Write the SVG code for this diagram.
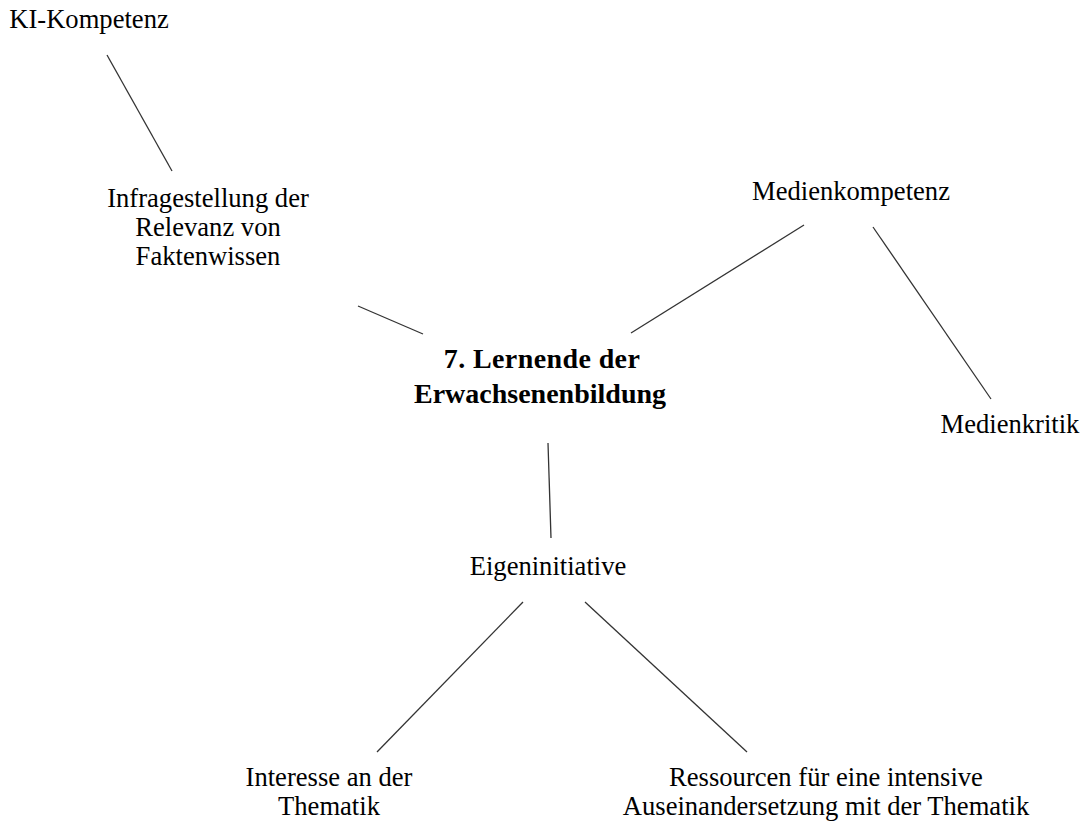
<svg xmlns="http://www.w3.org/2000/svg" width="1083" height="821" viewBox="0 0 1083 821">
  <style>
    .lbl { font-family: "Liberation Serif", "Times New Roman", serif; font-size: 26.6px; fill: #000; text-anchor: middle; }
    .root { font-family: "Liberation Serif", "Times New Roman", serif; font-size: 28px; font-weight: bold; fill: #000; text-anchor: middle; }
    .edge { stroke: #333; stroke-width: 1.3; fill: none; }
  </style>
  <rect width="1083" height="821" fill="#fff"/>

  <g id="connectors">
    <line class="edge" x1="107" y1="55" x2="172" y2="171"/>
    <line class="edge" x1="358" y1="306" x2="423" y2="334"/>
    <line class="edge" x1="631" y1="333" x2="804" y2="225"/>
    <line class="edge" x1="873" y1="227" x2="991" y2="399"/>
    <line class="edge" x1="548" y1="443" x2="551" y2="538"/>
    <line class="edge" x1="523" y1="602" x2="377" y2="752"/>
    <line class="edge" x1="585" y1="602" x2="747" y2="752"/>
  </g>

  <g id="node-root">
    <text class="root" x="542" y="368" letter-spacing="0.4">7. Lernende der</text>
    <text class="root" x="540" y="403">Erwachsenenbildung</text>
  </g>
  <g id="node-ki">
    <text class="lbl" x="89" y="28">KI-Kompetenz</text>
  </g>
  <g id="node-infrage">
    <text class="lbl" x="208" y="207">Infragestellung der</text>
    <text class="lbl" x="208" y="236">Relevanz von</text>
    <text class="lbl" x="208" y="265">Faktenwissen</text>
  </g>
  <g id="node-medienkompetenz">
    <text class="lbl" x="851" y="200">Medienkompetenz</text>
  </g>
  <g id="node-medienkritik">
    <text class="lbl" x="1010" y="433">Medienkritik</text>
  </g>
  <g id="node-eigeninitiative">
    <text class="lbl" x="548" y="575">Eigeninitiative</text>
  </g>
  <g id="node-interesse">
    <text class="lbl" x="329" y="786">Interesse an der</text>
    <text class="lbl" x="329" y="815">Thematik</text>
  </g>
  <g id="node-ressourcen">
    <text class="lbl" x="826" y="786">Ressourcen für eine intensive</text>
    <text class="lbl" x="826" y="815">Auseinandersetzung mit der Thematik</text>
  </g>
</svg>
